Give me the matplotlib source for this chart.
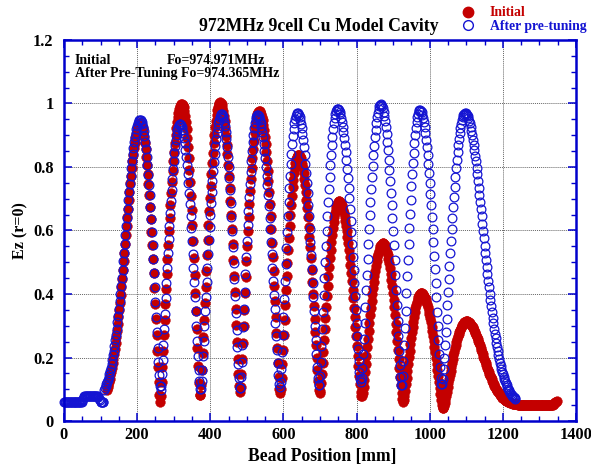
import numpy as np
import matplotlib
matplotlib.use('Agg')
import matplotlib.pyplot as plt
from matplotlib.ticker import MultipleLocator, FuncFormatter
from matplotlib.lines import Line2D

plt.rcParams['font.family'] = ['Liberation Serif', 'DejaVu Serif']
plt.rcParams['font.weight'] = 'bold'

# ---------------- data ----------------
# Initial (red, filled)
init_peak_x = [208, 322, 427, 534, 641, 752, 872, 977, 1100]
init_peak_y = [0.940, 1.000, 1.004, 0.977, 0.839, 0.692, 0.560, 0.403, 0.314]
init_node_x = [263, 372, 481, 591, 699, 814, 927, 1036]
init_node_y = [0.060, 0.076, 0.092, 0.087, 0.087, 0.076, 0.060, 0.040]
init_range = [117, 1348]
init_floor = [0.040, 0.050]
init_edge_sigma = [39, 45]
init_end_x = [1336, 1348]
init_end_y = [0.050, 0.065]

# After pre-tuning (blue, open)
tuned_peak_x = [208, 317, 431, 529, 638, 748, 866, 973, 1097]
tuned_peak_y = [0.949, 0.935, 0.966, 0.963, 0.970, 0.984, 0.998, 0.980, 0.970]
tuned_node_x = [264, 373, 481, 590, 697, 812, 923, 1033]
tuned_node_y = [0.097, 0.097, 0.100, 0.107, 0.110, 0.123, 0.110, 0.113]
tuned_range = [0, 1234]
tuned_floor = [0.060, 0.055]
tuned_edge_sigma = [39, 48]
tuned_pipe_x = [0, 48, 56, 92, 100, 108]
tuned_pipe_y = [0.060, 0.060, 0.079, 0.079, 0.060, 0.060]

step_mm = 2.0


def cavity_profile(x, px, py, nx, ny, floor, sig):
    y = np.empty_like(x)
    for k, xx in enumerate(x):
        if xx <= px[0]:
            d = px[0] - xx
            y[k] = floor[0] + (py[0] - floor[0]) * np.exp(-0.5 * (d / sig[0]) ** 2)
        elif xx >= px[-1]:
            d = xx - px[-1]
            y[k] = floor[1] + (py[-1] - floor[1]) * np.exp(-0.5 * (d / sig[1]) ** 2)
        else:
            i = np.searchsorted(px, xx, side='right') - 1
            n, m = nx[i], ny[i]
            if xx < n:
                s = np.sin(np.pi / 2 * (n - xx) / (n - px[i]))
                a = py[i]
            else:
                s = np.sin(np.pi / 2 * (xx - n) / (px[i + 1] - n))
                a = py[i + 1]
            y[k] = np.sqrt(m ** 2 + (a ** 2 - m ** 2) * s ** 2)
    return y


x_init = np.arange(init_range[0], init_range[1] + 0.1, step_mm)
y_init = cavity_profile(x_init, init_peak_x, init_peak_y, init_node_x,
                        init_node_y, init_floor, init_edge_sigma)
end_mask = x_init >= init_end_x[0]
y_init[end_mask] = np.interp(x_init[end_mask], init_end_x, init_end_y)

x_tuned = np.arange(tuned_range[0], tuned_range[1] + 0.1, step_mm)
y_tuned = cavity_profile(x_tuned, tuned_peak_x, tuned_peak_y, tuned_node_x,
                         tuned_node_y, tuned_floor, tuned_edge_sigma)
pipe_mask = x_tuned <= tuned_pipe_x[-1]
y_tuned[pipe_mask] = np.interp(x_tuned[pipe_mask], tuned_pipe_x, tuned_pipe_y)

# ---------------- figure ----------------
RED = '#c40000'
BLUE = '#1414d2'
AXBLUE = '#0000cc'

fig = plt.figure(figsize=(5.91, 4.70), dpi=100)
ax = fig.add_axes([64 / 591, 1 - 421 / 470, 512 / 591, 381 / 470])

ax.plot(x_init, y_init, linestyle='none', marker='o', markersize=7.0,
        markerfacecolor=RED, markeredgecolor=RED, markeredgewidth=0.3,
        clip_on=False, zorder=3)
ax.plot(x_tuned, y_tuned, linestyle='none', marker='o', markersize=6.3,
        markerfacecolor='none', markeredgecolor=BLUE, markeredgewidth=0.9,
        clip_on=False, zorder=4)

ax.set_xlim(0, 1400)
ax.set_ylim(0, 1.2)
ax.xaxis.set_major_locator(MultipleLocator(200))
ax.xaxis.set_minor_locator(MultipleLocator(50))
ax.yaxis.set_major_locator(MultipleLocator(0.2))
ax.yaxis.set_minor_locator(MultipleLocator(0.05))
ax.yaxis.set_major_formatter(FuncFormatter(lambda v, p: '%g' % round(v, 2)))
ax.xaxis.set_major_formatter(FuncFormatter(lambda v, p: '%d' % round(v)))

ax.grid(True, which='major', color='#666666', linestyle=(0, (1, 1)), linewidth=0.7)
ax.set_axisbelow(True)
for sp in ax.spines.values():
    sp.set_color(AXBLUE)
    sp.set_linewidth(1.8)
    sp.set_zorder(5)

ax.tick_params(which='both', direction='in', top=True, right=True,
               color=AXBLUE, labelcolor='black', labelsize=11.8)
ax.tick_params(which='major', length=6, width=1.1)
ax.tick_params(which='minor', length=3.5, width=1.0)
ax.tick_params(axis='x', pad=4.5)
ax.tick_params(axis='y', pad=7.5)
for lab in ax.get_xticklabels() + ax.get_yticklabels():
    lab.set_fontweight('bold')

ax.set_xlabel('Bead Position [mm]', fontsize=12.7, fontweight='bold')
ax.xaxis.label.set_va('baseline')
ax.xaxis.set_label_coords((322.5 - 64) / 512, (421 - 460.5) / 381)
ax.set_ylabel('Ez (r=0)', fontsize=11.5, fontweight='bold')
ax.yaxis.set_label_coords((28 - 64) / 512, 0.5)

fig.text(318.5 / 591, 1 - 31 / 470, '972MHz 9cell Cu Model Cavity',
         ha='center', va='baseline', fontsize=12.8, fontweight='bold')

fig.text(75 / 591, 1 - 63.5 / 470, 'Initial', ha='left', va='baseline',
         fontsize=10, fontweight='bold')
fig.text(167 / 591, 1 - 63.5 / 470, 'Fo=974.971MHz', ha='left', va='baseline',
         fontsize=10, fontweight='bold')
fig.text(75 / 591, 1 - 76.5 / 470, 'After Pre-Tuning Fo=974.365MHz', ha='left',
         va='baseline', fontsize=10, fontweight='bold')

handles = [Line2D([], [], linestyle='none', marker='o', markersize=7.5,
                  markerfacecolor=RED, markeredgecolor=RED),
           Line2D([], [], linestyle='none', marker='o', markersize=7,
                  markerfacecolor='none', markeredgecolor=BLUE, markeredgewidth=1.0)]
leg = fig.legend(handles, ['Initial', 'After pre-tuning'], loc='upper left',
                 bbox_to_anchor=(461 / 591, 1 - 6.5 / 470), frameon=False,
                 handlelength=1.0, handletextpad=1.1, labelspacing=0.05,
                 borderpad=0, borderaxespad=0, fontsize=9.9)
for t, c in zip(leg.get_texts(), [RED, BLUE]):
    t.set_color(c)
    t.set_fontweight('bold')

fig.savefig('out.png', dpi=100)
